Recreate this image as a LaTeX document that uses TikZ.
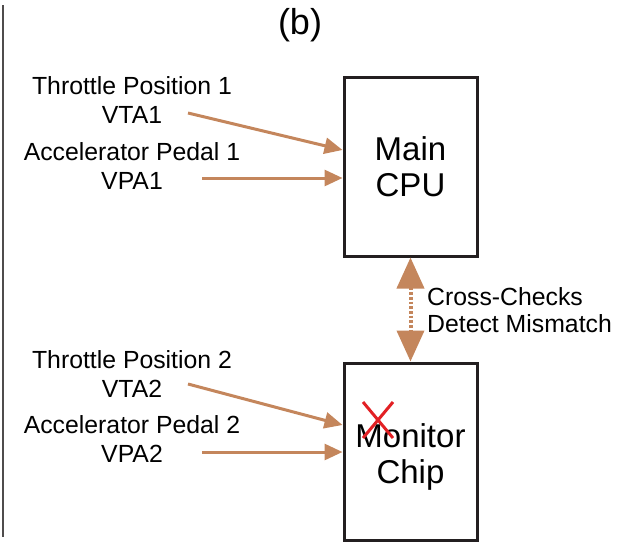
\documentclass[tikz,border=0pt]{standalone}
\usepackage{fontspec}
\setmainfont{Liberation Sans}
\usetikzlibrary{arrows.meta, positioning}
\definecolor{signalcolor}{RGB}{196,134,92}
\definecolor{faultcolor}{RGB}{226,32,36}
\definecolor{framecolor}{RGB}{35,31,32}

\begin{document}
\begin{tikzpicture}[x=1pt,y=-1pt,
    chipbox/.style={draw=framecolor, line width=3pt, minimum width=133pt, minimum height=179pt, inner sep=0pt, font=\fontsize{33}{36}\selectfont, align=center},
    sensorlabel/.style={font=\fontsize{24.8}{29}\selectfont, align=center, inner sep=0pt},
    notelabel/.style={font=\fontsize{24.8}{27}\selectfont, align=left, inner sep=0pt, anchor=west},
    sigarrow/.style={draw=signalcolor, line width=3pt, -{Triangle[length=18pt,width=16pt]}},
    checkarrow/.style={draw=signalcolor, line width=4pt, dash pattern=on 2.7pt off 2pt, {Triangle[length=31pt,width=27pt]}-{Triangle[length=31pt,width=27pt]}},
  ]
    \useasboundingbox (0,0) rectangle (629,541);

    % left frame line and panel tag
    \draw[framecolor!80, line width=1.5pt] (3,5) -- (3,537);
    \node[font=\fontsize{36}{38}\selectfont] (tag) at (300,25) {(b)};

    % chips
    \node[chipbox] (main) at (410.5,166.5) {Main\\CPU};
    \node[chipbox, minimum height=177pt, text height=70pt] (monitor) at (410.5,451.5) {Monitor\\Chip};

    % sensor inputs
    \node[sensorlabel] (tp1) at (132,100) {Throttle Position 1\\VTA1};
    \node[sensorlabel] (ap1) at (132,166) {Accelerator Pedal 1\\VPA1};
    \node[sensorlabel] (tp2) at (132,374) {Throttle Position 2\\VTA2};
    \node[sensorlabel] (ap2) at (132,439) {Accelerator Pedal 2\\VPA2};

    \coordinate (tp1s) at (188,113);
    \coordinate (ap1s) at (202,178);
    \coordinate (tp2s) at (188,384);
    \coordinate (ap2s) at (202,452);

    \draw[sigarrow] (tp1s) -- ([yshift=16.5pt]main.west);
    \draw[sigarrow] (ap1s) -- ([yshift=-11.5pt]main.west);
    \draw[sigarrow] (tp2s) -- ([yshift=26.5pt]monitor.west);
    \draw[sigarrow] (ap2s) -- ([yshift=-0.5pt]monitor.west);

    % cross-check link
    \draw[checkarrow] (main.south) -- (monitor.north);
    \node[notelabel] (check) at (427,310.5) {Cross-Checks\\Detect Mismatch};

    % failed mark
    \draw[faultcolor, line width=3pt] (363,402) -- (393,438) (393,402) -- (363,438);
\end{tikzpicture}
\end{document}
